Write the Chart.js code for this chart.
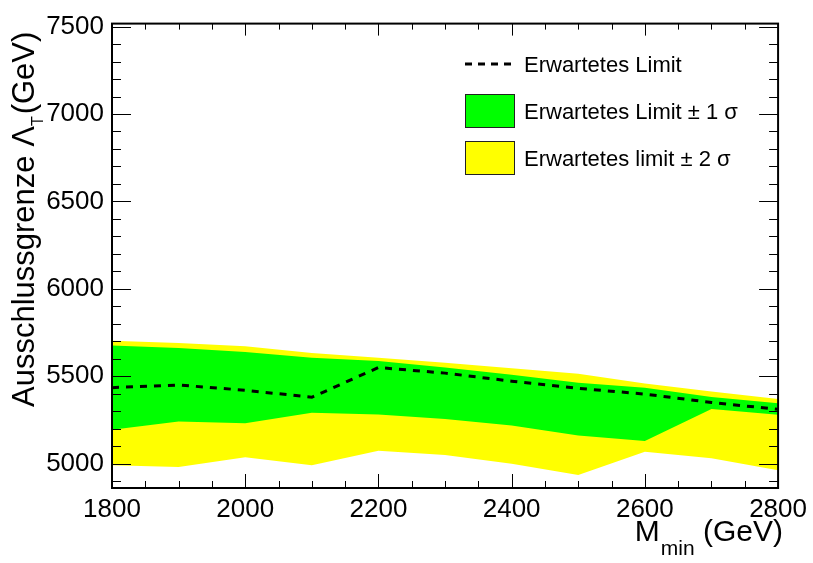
<!DOCTYPE html>
<html>
<head>
<meta charset="utf-8">
<script src="https://cdn.jsdelivr.net/npm/chart.js@4.4.0/dist/chart.umd.min.js"></script>
<style>
  html, body { margin: 0; padding: 0; background: #fff; }
  #chart { display: block; }
</style>
</head>
<body>
<canvas id="chart" width="813" height="563"></canvas>
<script>
// M_min scan points (GeV)
MASS_POINTS = [1800, 1900, 2000, 2100, 2200, 2300, 2400, 2500, 2600, 2700, 2800]

// expected exclusion limit on Lambda_T (GeV) and its 1/2 sigma bands
EXPECTED       = [5435, 5450, 5420, 5380, 5550, 5518, 5472, 5431, 5398, 5350, 5311]
ONE_SIGMA_UP   = [5676, 5661, 5639, 5606, 5587, 5550, 5509, 5463, 5435, 5382, 5345]
ONE_SIGMA_DOWN = [5194, 5241, 5231, 5291, 5281, 5256, 5218, 5161, 5130, 5313, 5280]
TWO_SIGMA_UP   = [5703, 5690, 5672, 5633, 5606, 5578, 5546, 5515, 5458, 5413, 5370]
TWO_SIGMA_DOWN = [4991, 4981, 5037, 4991, 5074, 5050, 5000, 4935, 5069, 5031, 4963]

X_TICKS = [1800, 2000, 2200, 2400, 2600, 2800]
Y_TICKS = [5000, 5500, 6000, 6500, 7000, 7500]
X_RANGE = [1800, 2800]
Y_RANGE = [4861, 7517]

LEGEND_LABELS = ["Erwartetes Limit", "Erwartetes Limit \u00b1 1 \u03c3", "Erwartetes limit \u00b1 2 \u03c3"]

FONT = '"Liberation Sans", Arial, Helvetica, sans-serif'
GREEN = "#00ff00"
YELLOW = "#ffff00"

function ToPoints(ys){
    return MASS_POINTS.map(function(x, i){ return {x: x, y: ys[i]} })
}

// plain integers, no thousands separator
function PlainLabel(v){
    return String(v)
}

// ROOT style frame: box plus inward ticks on all four sides
var FramePlugin = {
    id: "frame",
    afterDatasetsDraw: function(chart){
        var ctx = chart.ctx, a = chart.chartArea
        var xs = chart.scales.x, ys = chart.scales.y
        ctx.save()
        ctx.strokeStyle = "#000"
        ctx.lineWidth = 1
        ctx.beginPath()
        for(var v = X_RANGE[0]; v <= X_RANGE[1]; v += 50){
            var px = Math.round(xs.getPixelForValue(v)) + 0.5
            var major = (v % 200) == 0
            ctx.moveTo(px, a.bottom); ctx.lineTo(px, a.bottom - (major ? 14 : 7))
            ctx.moveTo(px, a.top); ctx.lineTo(px, a.top + (major ? 12 : 6))
        }
        for(var w = 4900; w <= 7500; w += 100){
            var py = Math.round(ys.getPixelForValue(w)) + 0.5
            var big = (w % 500) == 0
            ctx.moveTo(a.left, py); ctx.lineTo(a.left + (big ? 19 : 9), py)
            ctx.moveTo(a.right, py); ctx.lineTo(a.right - (big ? 19 : 9), py)
        }
        ctx.stroke()
        ctx.lineWidth = 2
        ctx.strokeRect(a.left, a.top, a.right - a.left, a.bottom - a.top)
        ctx.restore()
    },
    afterDraw: function(chart){
        var ctx = chart.ctx
        ctx.save()
        ctx.fillStyle = "#000"
        ctx.textBaseline = "alphabetic"

        // legend
        ctx.strokeStyle = "#000"
        ctx.lineWidth = 3
        ctx.setLineDash([7, 6])
        ctx.beginPath(); ctx.moveTo(465, 64); ctx.lineTo(515, 64); ctx.stroke()
        ctx.setLineDash([])
        ctx.lineWidth = 1
        ctx.strokeStyle = "#222"
        ctx.fillStyle = GREEN
        ctx.fillRect(465.5, 94.5, 49, 33); ctx.strokeRect(465.5, 94.5, 49, 33)
        ctx.fillStyle = YELLOW
        ctx.fillRect(465.5, 141.5, 49, 33); ctx.strokeRect(465.5, 141.5, 49, 33)
        ctx.fillStyle = "#000"
        ctx.font = "22px " + FONT
        ctx.fillText(LEGEND_LABELS[0], 524, 72)
        ctx.fillText(LEGEND_LABELS[1], 524, 119)
        ctx.fillText(LEGEND_LABELS[2], 524, 166)

        // x title: M_min (GeV)
        ctx.font = "30px " + FONT
        ctx.textAlign = "right"
        ctx.fillText("(GeV)", 783, 541)
        var gw = ctx.measureText("(GeV) ").width
        ctx.font = "21px " + FONT
        var mw = ctx.measureText("min").width
        ctx.fillText("min", 783 - gw, 555)
        ctx.font = "30px " + FONT
        ctx.fillText("M", 783 - gw - mw - 1, 541)

        // y title: Ausschlussgrenze Lambda_T (GeV), rotated
        ctx.textAlign = "left"
        ctx.translate(34, 407)
        ctx.rotate(-Math.PI / 2)
        var pos = 0
        ctx.font = "31px " + FONT
        ctx.fillText("Ausschlussgrenze ", pos, 0)
        pos += ctx.measureText("Ausschlussgrenze ").width
        ctx.fillText("\u039b", pos, 0)
        pos += ctx.measureText("\u039b").width
        ctx.font = "16px " + FONT
        ctx.fillText("T", pos, 9)
        pos += ctx.measureText("T").width + 2
        ctx.font = "31px " + FONT
        ctx.fillText("(GeV)", pos, 0)
        ctx.restore()
    }
}

var config = {
    type: "line",
    data: {
        datasets: [
            {
                label: LEGEND_LABELS[0],
                data: ToPoints(EXPECTED),
                borderColor: "#000",
                borderWidth: 3,
                borderDash: [7, 7],
                pointRadius: 0,
                fill: false,
                order: 0
            },
            {
                label: LEGEND_LABELS[1],
                data: ToPoints(ONE_SIGMA_UP),
                borderColor: "rgba(0,0,0,0)",
                borderWidth: 0,
                backgroundColor: GREEN,
                pointRadius: 0,
                fill: "+1",
                order: 1
            },
            {
                label: "one_sigma_down",
                data: ToPoints(ONE_SIGMA_DOWN),
                borderColor: "rgba(0,0,0,0)",
                borderWidth: 0,
                pointRadius: 0,
                fill: false,
                order: 1
            },
            {
                label: LEGEND_LABELS[2],
                data: ToPoints(TWO_SIGMA_UP),
                borderColor: "rgba(0,0,0,0)",
                borderWidth: 0,
                backgroundColor: YELLOW,
                pointRadius: 0,
                fill: "+1",
                order: 2
            },
            {
                label: "two_sigma_down",
                data: ToPoints(TWO_SIGMA_DOWN),
                borderColor: "rgba(0,0,0,0)",
                borderWidth: 0,
                pointRadius: 0,
                fill: false,
                order: 2
            }
        ]
    },
    options: {
        responsive: false,
        animation: false,
        layout: { padding: { top: 11, right: 31, left: 0, bottom: 0 } },
        plugins: {
            legend: { display: false },
            tooltip: { enabled: false }
        },
        scales: {
            x: {
                type: "linear",
                min: X_RANGE[0],
                max: X_RANGE[1],
                grid: { display: false, drawTicks: false },
                border: { display: false },
                afterBuildTicks: function(s){ s.ticks = X_TICKS.map(function(v){ return {value: v} }) },
                afterFit: function(s){ s.height = 75 },
                ticks: {
                    autoSkip: false,
                    maxRotation: 0,
                    padding: 6,
                    color: "#000",
                    font: { family: FONT, size: 26 },
                    callback: PlainLabel
                }
            },
            y: {
                type: "linear",
                min: Y_RANGE[0],
                max: Y_RANGE[1],
                grid: { display: false, drawTicks: false },
                border: { display: false },
                afterBuildTicks: function(s){ s.ticks = Y_TICKS.map(function(v){ return {value: v} }) },
                afterFit: function(s){ s.width = 112 },
                ticks: {
                    autoSkip: false,
                    padding: 8,
                    color: "#000",
                    font: { family: FONT, size: 26 },
                    callback: PlainLabel
                }
            }
        }
    },
    plugins: [FramePlugin]
}

new Chart(document.getElementById("chart").getContext("2d"), config)
</script>
</body>
</html>
